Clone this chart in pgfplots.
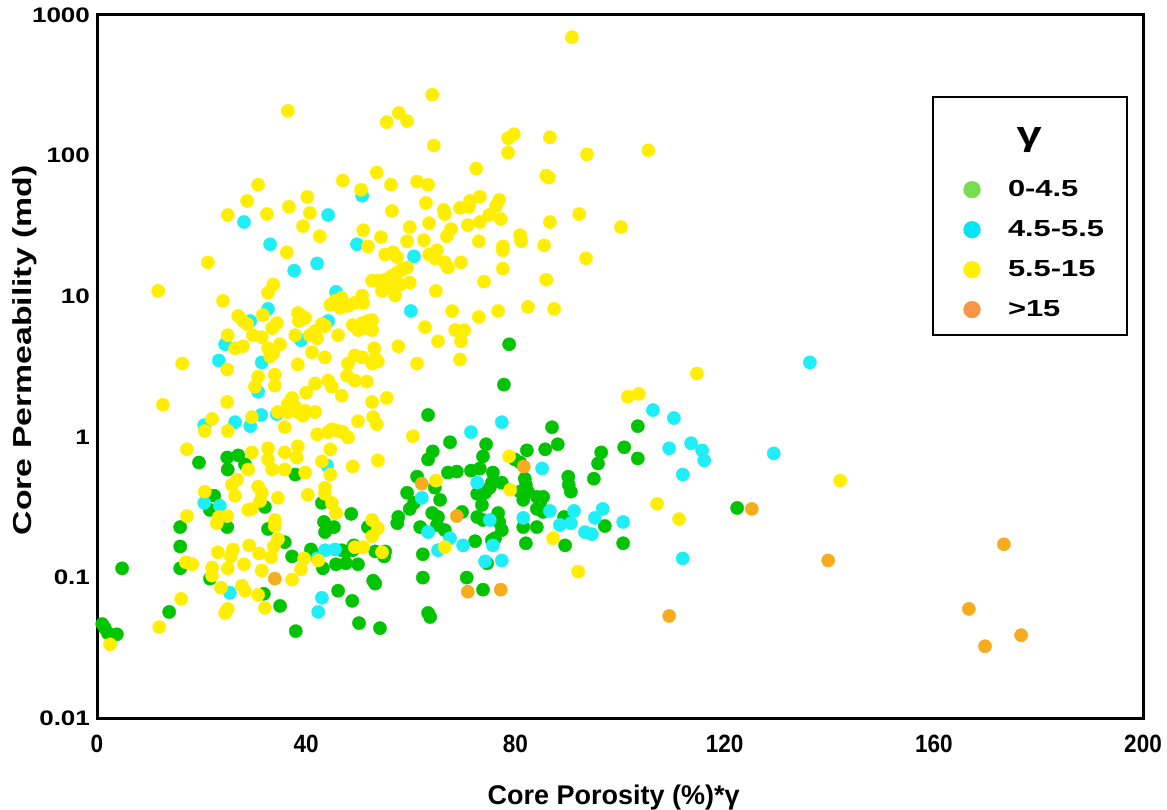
\documentclass[border=0pt]{standalone}
\usepackage{fontspec}
\setmainfont{Liberation Sans}
\newfontfamily\fYT{Liberation Sans}[FakeStretch=1.24]
\newfontfamily\fXT{Liberation Sans}[FakeStretch=0.9]
\newfontfamily\fYL{Liberation Sans}[FakeStretch=1.3]
\newfontfamily\fLeg{Liberation Sans}[FakeStretch=1.33]
\usepackage{pgfplots}
\pgfplotsset{compat=1.18}
\definecolor{cgreen}{RGB}{0,196,0}
\definecolor{ccyan}{RGB}{30,238,245}
\definecolor{cyellow}{RGB}{255,238,0}
\definecolor{corange}{RGB}{247,172,30}
\definecolor{lgreen}{RGB}{120,220,80}
\definecolor{lcyan}{RGB}{0,230,245}
\definecolor{lyellow}{RGB}{255,240,0}
\definecolor{lorange}{RGB}{247,150,70}
\pgfplotsset{
  myleg/.style={legend image code/.code={\path[draw=none,fill=none] (-10bp,0bp) -- (16bp,0bp); \draw[##1] plot coordinates {(0bp,0bp)};}},
  dots/.style={only marks, mark=*, mark size=3.3bp, color=#1, mark options={draw=#1, fill=#1, line width=0.2bp}},
  legdot/.style={only marks, mark=*, mark size=4.2bp, color=#1, mark options={draw=#1, fill=#1, line width=0.2bp}, myleg},
}
\begin{document}
\begin{tikzpicture}
\begin{axis}[name=ax,
  scale only axis, width=523bp, height=351.5bp,
  xmin=0, xmax=200, ymin=0.01, ymax=1000, ymode=log,
  clip=false,
  xtick={0,40,80,120,160,200},
  xticklabels={0,40,80,120,160,200},
  ytick={0.01,0.1,1,10,100,1000},
  yticklabels={0.01,0.1,1,10,100,1000},
  minor tick num=0, major tick length=0pt, minor tick length=0pt,
  axis line style={line width=1.5bp},
  xticklabel style={font=\fontsize{12.5bp}{14bp}\fXT\bfseries, yshift=-4.8bp},
  yticklabel style={font=\fontsize{10.5bp}{12bp}\fYT\bfseries},
  xlabel={Core Porosity (\%)*γ},
  ylabel={Core Permeability (md)},
  xlabel style={font=\fontsize{13.5bp}{16bp}\selectfont\bfseries, at={(axis description cs:0.494,-0.113)}, anchor=center},
  ylabel style={font=\fontsize{13bp}{16bp}\fYL\bfseries, at={(axis description cs:-0.0688,0.523)}, anchor=center},
  legend cell align=left,
  legend style={at={(0.798,0.885)}, anchor=north west, draw=black, line width=1.3bp, fill=white,
    inner xsep=9.5bp, inner ysep=6bp, row sep=6.5bp,
    font=\fontsize{11.6bp}{14bp}\fLeg\bfseries},
]
\addlegendimage{empty legend}
\addlegendentry{\rule{0pt}{21.5bp}\raisebox{5.1bp}{\hspace*{4.3bp}\fontsize{17bp}{20bp}\selectfont\bfseries γ}}
\addlegendimage{legdot=lgreen}
\addlegendentry{0-4.5}
\addlegendimage{legdot=lcyan}
\addlegendentry{4.5-5.5}
\addlegendimage{legdot=lyellow}
\addlegendentry{5.5-15}
\addlegendimage{legdot=lorange}
\addlegendentry{>15}

% gamma 0-4.5
\addplot[dots=cgreen, forget plot] coordinates {
(63.3,1.43) (67.5,0.915) (64.2,0.788) (63.3,0.690) (19.5,0.657) (24.9,0.713) (27.0,0.738) (28.3,0.636) (25.0,0.585) (37.9,0.539)
(61.2,0.521) (67.1,0.557) (78.8,4.55) (77.8,2.35) (87.0,1.17) (103.4,1.19) (74.4,0.885) (73.8,0.726) (82.2,0.801) (85.7,0.815)
(88.1,0.885) (96.4,0.775) (100.8,0.842) (103.4,0.702) (95.8,0.646) (79.9,0.690) (80.9,0.657) (68.8,0.566) (71.5,0.575) (73.2,0.595)
(75.7,0.557) (90.1,0.521) (95.0,0.504) (81.8,0.504) (22.4,0.381) (32.1,0.317) (21.6,0.302) (24.9,0.228) (15.9,0.228) (32.7,0.221)
(43.0,0.339) (43.4,0.248) (43.6,0.210) (45.3,0.228) (48.6,0.283) (51.8,0.228) (35.9,0.178) (15.9,0.166) (37.3,0.141) (40.9,0.158)
(41.3,0.148) (46.8,0.156) (47.8,0.153) (49.1,0.169) (48.9,0.156) (53.2,0.153) (55.1,0.153) (54.9,0.141) (43.2,0.116) (45.7,0.124)
(47.6,0.126) (49.9,0.124) (4.8,0.116) (15.9,0.116) (21.6,0.098) (31.9,0.0765) (52.8,0.0948) (53.2,0.0903) (46.1,0.0804) (48.8,0.0681)
(13.8,0.0568) (35.0,0.0627) (50.1,0.0473) (54.1,0.0436) (38.0,0.0415) (64.6,0.435) (59.3,0.400) (65.6,0.356) (60.6,0.339) (59.8,0.307)
(57.6,0.269) (57.4,0.243) (61.8,0.228) (64.1,0.287) (65.2,0.269) (65.0,0.236) (66.5,0.217) (62.3,0.146) (62.3,0.0997) (63.3,0.0559)
(63.7,0.0523) (1.0,0.0466) (2.1,0.0401) (3.8,0.0394) (1.5,0.0436) (75.5,0.472) (74.2,0.400) (72.7,0.393) (73.6,0.328) (77.4,0.472)
(75.1,0.435) (82.0,0.456) (80.9,0.407) (82.4,0.407) (81.5,0.356) (90.2,0.456) (90.6,0.407) (84.1,0.374) (85.3,0.374) (84.7,0.339)
(84.1,0.307) (85.3,0.292) (89.3,0.269) (97.1,0.232) (100.6,0.175) (89.5,0.169) (84.1,0.228) (81.5,0.228) (82.0,0.175) (69.8,0.292)
(72.7,0.269) (73.8,0.256) (76.7,0.287) (76.9,0.248) (77.4,0.217) (76.1,0.190) (72.3,0.181) (75.5,0.184) (74.6,0.126) (70.7,0.0997)
(73.8,0.0818) (122.4,0.312)
};
% gamma 4.5-5.5
\addplot[dots=ccyan, forget plot] coordinates {
(28.1,33.7) (44.2,37.8) (50.7,51.8) (33.1,23.4) (49.7,23.4) (37.7,15.2) (42.1,17.1) (45.7,10.75) (60.6,19.2) (60.0,7.85)
(32.7,8.12) (29.3,6.66) (44.2,6.66) (24.5,4.55) (39.0,4.86) (23.3,3.49) (31.5,3.38) (30.8,2.09) (34.4,1.45) (31.4,1.43)
(29.3,1.19) (26.4,1.27) (20.5,1.21) (44.0,0.625) (106.3,1.55) (110.3,1.36) (136.3,3.38) (77.4,1.27) (71.5,1.08) (109.4,0.828)
(113.6,0.90) (115.7,0.801) (116.1,0.679) (129.4,0.762) (85.1,0.595) (112.0,0.539) (20.5,0.339) (23.5,0.323) (42.1,0.1365) (43.6,0.156)
(45.5,0.158) (25.4,0.0778) (43.0,0.0716) (42.3,0.0568) (62.1,0.368) (63.3,0.210) (67.5,0.190) (65.2,0.156) (72.7,0.472) (86.6,0.297)
(91.2,0.297) (96.7,0.307) (100.6,0.248) (95.2,0.265) (90.6,0.243) (88.5,0.236) (93.3,0.210) (94.6,0.203) (81.5,0.265) (75.1,0.256)
(75.7,0.169) (70.0,0.169) (74.2,0.130) (77.4,0.132) (112.0,0.1365)
};
% gamma 5.5-15
\addplot[dots=cyellow, forget plot] coordinates {
(36.5,208) (64.1,271) (57.7,201) (55.4,173) (59.3,176) (64.4,118) (30.8,62.1) (28.7,47.6) (25.0,37.8) (32.5,38.4)
(36.7,43.2) (40.2,50.9) (40.7,39.1) (39.4,31.5) (42.6,26.7) (47.0,66.4) (50.5,57.2) (53.5,75.7) (56.2,62.1) (61.2,65.3)
(63.3,62.1) (62.9,46.1) (56.4,40.4) (66.3,41.1) (66.5,38.4) (59.8,31.0) (63.5,33.1) (54.3,26.3) (59.3,24.6) (62.5,25.0)
(66.9,26.7) (67.7,30.0) (50.9,29.5) (51.8,22.6)
(90.8,695) (78.6,133) (79.7,142) (86.6,135) (78.6,105) (93.7,102) (105.4,109) (72.5,80.9) (85.9,72.1) (86.4,69.7)
(73.2,50.9) (71.3,47.6) (69.4,42.5) (71.1,43.2) (76.9,48.4) (76.3,43.9) (75.0,37.8) (73.2,33.7) (70.9,32.0) (77.2,35.4)
(86.6,33.7) (92.2,38.4) (100.2,31.0) (73.0,24.6) (80.9,27.2) (81.1,24.6) (85.5,23.0) (77.6,22.6)
(36.3,20.5) (21.2,17.4) (11.7,10.9) (24.1,9.27) (55.1,19.8) (56.6,20.5) (57.4,18.9) (63.5,19.8) (65.0,21.2) (64.6,18.6)
(66.5,17.4) (67.1,16.0) (33.7,12.1) (32.7,10.6) (52.6,12.9) (53.7,12.9) (55.1,13.1) (56.4,14.0) (57.4,14.7) (58.3,15.5)
(59.3,16.0) (59.8,12.5) (55.6,11.5) (54.5,10.9) (57.0,10.1) (57.9,12.1) (64.8,10.9) (67.9,7.85) (62.7,6.03) (65.2,4.78)
(45.5,9.27) (46.8,9.74) (44.6,8.68) (46.5,8.25) (48.0,8.53) (49.3,8.97) (50.7,10.1) (50.9,8.97) (48.9,6.23) (50.7,6.44)
(51.8,6.66) (52.6,6.77) (49.9,5.74) (51.2,5.93) (52.6,5.74) (31.7,7.35) (33.5,5.93) (34.4,6.44) (27.0,7.23) (27.9,6.66)
(28.7,6.34) (38.4,7.60) (39.2,7.23) (39.8,7.00) (38.6,6.66) (43.0,6.34) (43.6,6.13) (41.7,5.64) (40.7,5.28) (42.1,5.02)
(25.0,5.28) (26.4,4.26) (27.9,4.40) (29.8,5.28) (31.5,5.11) (32.7,4.26) (33.7,3.92) (35.0,4.55) (37.9,5.28) (46.1,5.28)
(33.1,3.73) (16.3,3.32) (24.9,3.01) (41.1,3.99) (43.6,3.67) (38.4,3.27) (53.0,4.26) (57.6,4.40) (49.3,3.79) (50.7,3.67)
(48.0,3.32) (53.2,3.61) (53.7,3.43) (52.6,3.32) (61.2,3.32) (34.0,2.77) (30.8,2.68) (34.0,2.31) (30.2,2.27) (47.8,2.72)
(49.3,2.51) (51.6,2.47) (44.2,2.51) (44.9,2.27) (41.7,2.39) (40.0,2.06) (46.8,1.96) (52.6,1.77) (55.4,1.89) (12.6,1.69)
(24.9,1.77) (37.3,1.89) (36.5,1.71) (37.9,1.63) (38.4,1.50) (39.4,1.41) (36.5,1.50) (39.8,1.53) (41.7,1.50) (34.6,1.50)
(29.6,1.38) (22.0,1.34) (20.6,1.10) (25.0,1.10) (35.9,1.17) (49.9,1.29) (52.8,1.38) (53.5,1.23) (44.9,1.13) (46.1,1.10)
(44.2,1.08) (47.0,1.08) (48.0,0.99) (42.1,1.04) (60.4,1.01) (17.2,0.815) (32.7,0.828) (35.9,0.775) (38.4,0.856) (38.2,0.713)
(29.6,0.775) (28.9,0.585) (32.7,0.690) (33.5,0.585) (35.9,0.585) (39.8,0.557) (43.0,0.668) (44.6,0.815) (53.7,0.679) (48.9,0.615)
(44.6,0.539)
(77.6,21.2) (93.5,18.6) (69.6,17.4) (77.6,15.7) (74.0,12.7) (85.9,13.1) (73.0,7.11) (76.7,7.85) (82.4,8.39) (87.4,8.12)
(68.5,5.74) (70.2,5.74) (69.6,4.78) (69.4,3.55) (114.7,2.82) (101.5,1.93) (103.6,2.02) (78.8,0.726)
(26.8,0.496) (25.8,0.456) (26.4,0.381) (30.8,0.442) (31.5,0.400) (31.2,0.350) (29.6,0.307) (28.9,0.302) (43.6,0.435) (43.6,0.393)
(20.6,0.407) (34.6,0.368) (40.3,0.387) (44.9,0.339) (45.7,0.287) (17.2,0.273) (23.3,0.269) (24.9,0.273) (22.9,0.243) (34.0,0.256)
(34.0,0.232) (52.6,0.256) (53.7,0.224) (52.6,0.196) (34.6,0.187) (33.8,0.166) (29.1,0.169) (26.0,0.158) (23.1,0.151) (25.6,0.141)
(31.0,0.148) (33.3,0.139) (39.6,0.1365) (42.3,0.132) (39.0,0.114) (37.3,0.0964) (49.3,0.164) (50.9,0.164) (54.5,0.151) (17.0,0.128)
(18.2,0.124) (22.0,0.1176) (25.0,0.116) (28.1,0.124) (31.5,0.112) (22.0,0.103) (23.7,0.0845) (27.7,0.0873) (28.3,0.0804) (30.8,0.0752)
(16.1,0.0704) (32.1,0.0607) (25.0,0.0597) (24.5,0.0559) (11.9,0.0443) (64.8,0.488) (66.5,0.164) (2.5,0.0334)
(79.0,0.420) (87.2,0.190) (92.0,0.110) (107.1,0.334) (111.3,0.260) (142.1,0.488)
};
% gamma >15
\addplot[dots=corange, forget plot] coordinates {
(34.0,0.098) (62.1,0.464) (68.8,0.273) (81.6,0.615) (70.9,0.0791) (77.2,0.0818) (109.4,0.0532) (125.2,0.307) (139.8,0.132) (173.4,0.172)
(166.7,0.0597) (176.7,0.0388) (169.8,0.0324)
};
\end{axis}
\pgfresetboundingbox
\path[use as bounding box] ([xshift=-48.5bp,yshift=-46bp]ax.south west) rectangle ([xshift=12bp,yshift=7.5bp]ax.north east);
\end{tikzpicture}
\end{document}
